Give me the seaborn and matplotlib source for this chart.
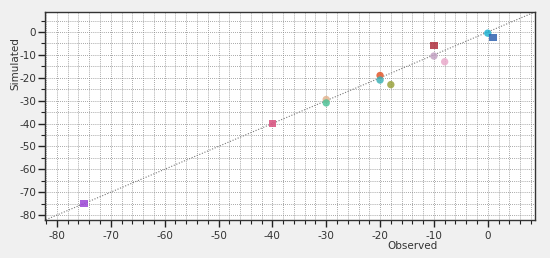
import matplotlib
matplotlib.use("Agg")
import matplotlib.pyplot as plt
import seaborn as sns
import pandas as pd
from matplotlib.ticker import MultipleLocator

observed = [-75, -40, -30, -30, -20, -20, -18, -10, -10, -8, 0, 1]
simulated = [-75, -40, -29.5, -31, -19, -21, -23, -6, -10.5, -13, -0.5, -2.3]
shapes = ["s", "s", "o", "o", "o", "o", "o", "s", "o", "o", "o", "s"]
colors = ["#9b45d6", "#d9507e", "#e2b48f", "#4fc49a", "#e2572a", "#3fb3b8",
          "#9aa33e", "#b0303f", "#c4a3c4", "#e9aacb", "#1fb3d3", "#2f62b0"]

df = pd.DataFrame({"Observed": observed, "Simulated": simulated,
                   "shape": shapes, "id": range(len(observed))})

sns.set_style("white")
plt.rcParams["font.family"] = ["DejaVu Sans"]
plt.rcParams["axes.unicode_minus"] = False

fig = plt.figure(figsize=(5.5, 2.58), dpi=100, facecolor="#f0f0f0")
ax = fig.add_axes([0.082, 0.147, 0.891, 0.807])

# 1:1 line
ax.plot([-83, 9], [-83, 9], color="#777777", lw=0.8, ls=(0, (1, 1.5)), zorder=2)

sns.scatterplot(data=df, x="Observed", y="Simulated", hue="id", style="id",
                palette=colors, markers=dict(enumerate(shapes)), s=28,
                linewidth=0, alpha=0.85, legend=False, ax=ax, zorder=3)

ax.set_xlim(-82.2, 8.8)
ax.set_ylim(-82.2, 8.8)
ax.xaxis.set_major_locator(MultipleLocator(10))
ax.xaxis.set_minor_locator(MultipleLocator(2))
ax.yaxis.set_major_locator(MultipleLocator(10))
ax.yaxis.set_minor_locator(MultipleLocator(5))
ax.grid(which="both", color="#8a8a8a", ls=(0, (1, 1.5)), lw=0.6)
ax.set_axisbelow(True)

ax.tick_params(which="major", direction="out", length=5, width=1, colors="#222222",
               labelsize=7.5, labelcolor="#333333", bottom=True, left=True)
ax.tick_params(which="minor", direction="out", length=3, width=0.8, colors="#222222",
               bottom=True, left=True)
ax.tick_params(axis="y", which="major", pad=1.5)
ax.tick_params(axis="x", which="major", pad=3)
for sp in ax.spines.values():
    sp.set_color("#333333")
    sp.set_linewidth(1)

ax.set_xlabel("Observed", fontsize=7.5, color="#333333")
ax.set_ylabel("Simulated", fontsize=7.5, color="#333333")
ax.xaxis.set_label_coords(0.75, -0.1)
ax.yaxis.set_label_coords(-0.05, 0.75)

fig.savefig("out.png", dpi=100, facecolor=fig.get_facecolor())
